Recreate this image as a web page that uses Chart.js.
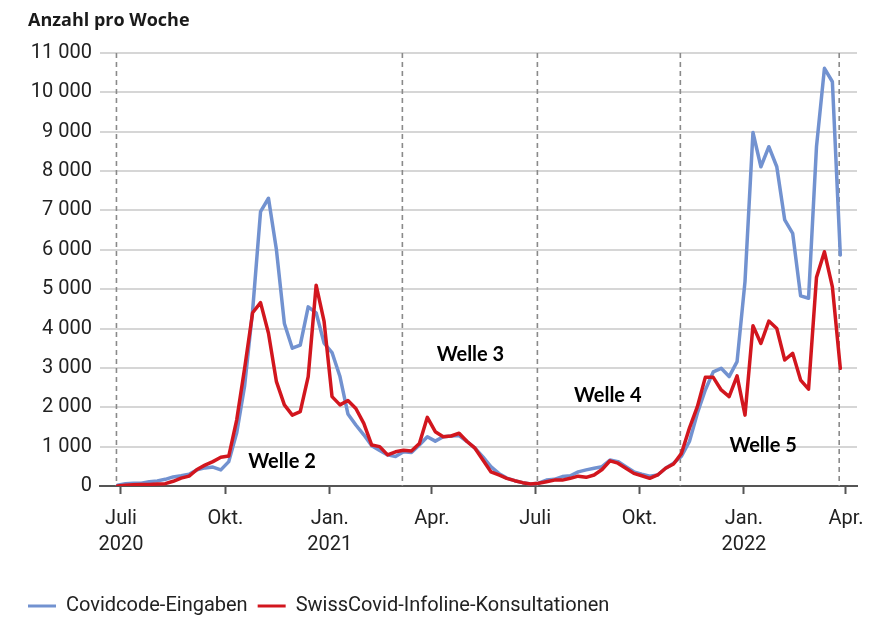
<!DOCTYPE html>
<html><head><meta charset="utf-8">
<script src="https://cdn.jsdelivr.net/npm/chart.js@4.4.1/dist/chart.umd.min.js"></script>
<style>html,body{margin:0;padding:0;background:#fff;}canvas{display:block;}</style>
</head><body>
<canvas id="c" width="877" height="617"></canvas>
<script>
// ---- data ----
const originDate = '2020-07-01';
const firstWeek = '2020-06-28';
const covidcode = [20,60,70,70,110,130,170,230,260,300,410,460,480,410,620,1350,2550,4450,6970,7310,
  6000,4130,3500,3580,4550,4400,3630,3390,2780,1830,1550,1300,1020,900,790,750,870,850,1040,1250,
  1140,1250,1270,1280,1130,960,740,490,320,200,135,85,50,70,150,170,240,260,360,410,
  450,490,660,620,490,360,300,250,280,450,576,760,1130,1850,2440,2900,2990,2780,3160,5200,
  8980,8110,8620,8110,6760,6420,4830,4770,8620,10610,10270,5870];
const infoline = [0,20,30,40,40,50,60,120,200,250,420,530,620,730,760,1680,3000,4400,4660,3880,
  2650,2060,1800,1890,2780,5100,4180,2270,2060,2170,1970,1590,1040,1000,790,870,910,890,1080,1745,
  1380,1250,1270,1340,1130,960,660,360,280,195,135,85,50,70,110,150,150,195,250,220,
  280,420,640,580,450,320,260,195,280,450,560,830,1470,2015,2760,2760,2440,2270,2800,1800,
  4070,3620,4190,4000,3200,3370,2690,2460,5300,5950,5060,2990];
const seriesLabels = ['Covidcode-Eingaben','SwissCovid-Infoline-Konsultationen'];
const quarterTicks = ['2020-07-01','2020-10-01','2021-01-01','2021-04-01','2021-07-01','2021-10-01','2022-01-01','2022-04-01'];
const quarterLabels = [['Juli','2020'],'Okt.',['Jan.','2021'],'Apr.','Juli','Okt.',['Jan.','2022'],'Apr.'];
const waveBounds = ['2020-06-27','2021-03-06','2021-07-03','2021-11-06','2022-03-26'];
const waveNames = ['Welle 2','Welle 3','Welle 4','Welle 5'];
const waveDates = ['2020-11-20','2021-05-05','2021-09-03','2022-01-18'];
const waveValues = [620,3350,2310,1020];
const yMax = 11000, yStep = 1000;
const xMinDay = -18.5, xMaxDay = 648.7;

// ---- helpers ----
const DAY = 86400000;
const dayOf = s => (Date.parse(s + 'T00:00:00Z') - Date.parse(originDate + 'T00:00:00Z')) / DAY;
const week0 = dayOf(firstWeek);
const toPoints = arr => arr.map((v, i) => ({x: week0 + 7 * i, y: v}));
const fmt = v => String(v).replace(/\B(?=(\d{3})+(?!\d))/g, ' ');

const overlay = {
  id: 'overlay',
  beforeDatasetsDraw(chart) {
    const {ctx, chartArea: {top, bottom}, scales: {x}} = chart;
    ctx.save();
    ctx.strokeStyle = '#8a8a8a';
    ctx.lineWidth = 1.6;
    ctx.setLineDash([5, 4]);
    waveBounds.forEach(d => {
      const px = x.getPixelForValue(dayOf(d));
      ctx.beginPath(); ctx.moveTo(px, top); ctx.lineTo(px, bottom); ctx.stroke();
    });
    ctx.restore();
  },
  afterDatasetsDraw(chart) {
    const {ctx, scales: {x, y}} = chart;
    ctx.save();
    ctx.fillStyle = '#000';
    ctx.font = 'bold 20px Lato';
    ctx.textAlign = 'center';
    ctx.textBaseline = 'middle';
    waveNames.forEach((t, i) => {
      ctx.fillText(t, x.getPixelForValue(dayOf(waveDates[i])), y.getPixelForValue(waveValues[i]));
    });
    ctx.restore();
  },
  afterDraw(chart) {
    const {ctx} = chart;
    ctx.save();
    ctx.fillStyle = '#1a1a1a';
    ctx.font = 'bold 18px "Open Sans"';
    ctx.textAlign = 'left';
    ctx.textBaseline = 'alphabetic';
    ctx.fillText('Anzahl pro Woche', 28, 26);
    ctx.restore();
  }
};

new Chart(document.getElementById('c'), {
  type: 'line',
  data: {
    datasets: [
      {label: seriesLabels[0], data: toPoints(covidcode), borderColor: '#7292d0', backgroundColor: '#7292d0',
       borderWidth: 3.5, pointRadius: 0, tension: 0, order: 1},
      {label: seriesLabels[1], data: toPoints(infoline), borderColor: '#d2161e', backgroundColor: '#d2161e',
       borderWidth: 3.5, pointRadius: 0, tension: 0, order: 0}
    ]
  },
  options: {
    responsive: false,
    animation: false,
    events: [],
    layout: {padding: {top: 53, left: 18, right: 20, bottom: -9}},
    elements: {line: {borderJoinStyle: 'round', borderCapStyle: 'round'}},
    scales: {
      x: {
        type: 'linear', min: xMinDay, max: xMaxDay,
        afterBuildTicks(s) { s.ticks = quarterTicks.map(d => ({value: dayOf(d)})); },
        ticks: {autoSkip: false, maxRotation: 0, minRotation: 0, color: '#222', padding: 12,
          font: {family: 'Roboto', size: 20, lineHeight: 1.3},
          callback: (v, i) => quarterLabels[i]},
        grid: {drawOnChartArea: false, drawTicks: true, tickLength: 8, tickColor: '#555', tickWidth: 2},
        border: {display: true, color: '#555', width: 2},
        afterFit(s) { s.height = 100; }
      },
      y: {
        min: 0, max: yMax,
        ticks: {stepSize: yStep, color: '#222', padding: 8, font: {family: 'Roboto', size: 20},
          callback: v => fmt(v)},
        grid: {color: c => c.tick && c.tick.value === 0 ? 'rgba(0,0,0,0)' : '#d6d6d6', lineWidth: 2, drawTicks: false},
        border: {display: false},
        afterFit(s) { s.width = 82; }
      }
    },
    plugins: {
      legend: {
        position: 'bottom', align: 'start',
        labels: {
          boxWidth: 28, boxHeight: 3, padding: 10, color: '#222',
          font: {family: 'Roboto', size: 20},
          sort: (a, b) => a.datasetIndex - b.datasetIndex,
          generateLabels(chart) {
            return Chart.defaults.plugins.legend.labels.generateLabels(chart).map(l => {
              l.fillStyle = l.strokeStyle; l.lineWidth = 0; return l;
            });
          }
        }
      },
      tooltip: {enabled: false},
      title: {display: false}
    }
  },
  plugins: [overlay]
});
</script>
</body></html>
